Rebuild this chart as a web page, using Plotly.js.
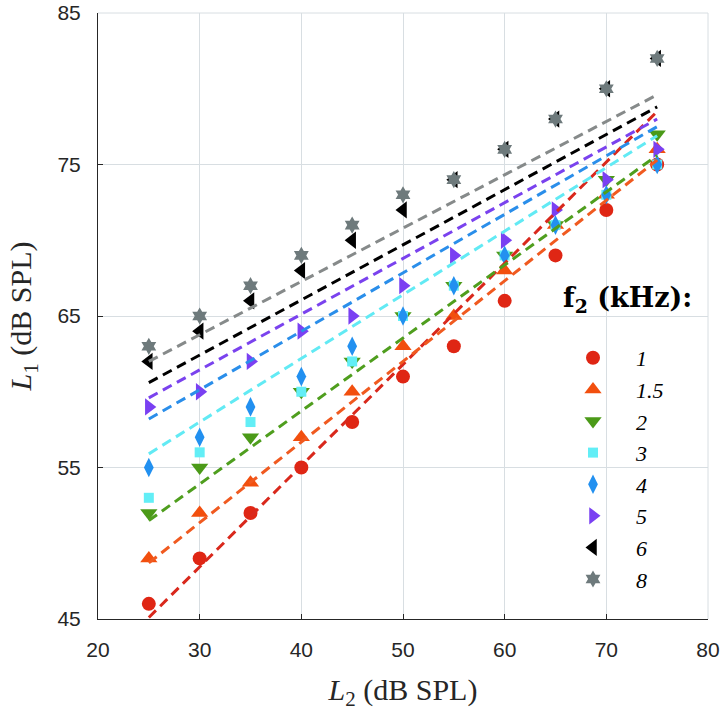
<!DOCTYPE html>
<html>
<head>
<meta charset="utf-8">
<script src="https://cdn.plot.ly/plotly-3.0.1.min.js"></script>
<style>html,body{margin:0;padding:0;background:#fff;}#chart{width:721px;height:718px;}</style>
</head>
<body>
<div id="chart"></div>
<script>
// L2 levels (dB SPL)
const L2 = [25, 30, 35, 40, 45, 50, 55, 60, 65, 70, 75];
// f2 (kHz) series names
const seriesNames = ["1", "1.5", "2", "3", "4", "5", "6", "8"];
// Measured L1 (dB SPL) for each f2
const L1_f1   = [46, 49, 52, 55, 58, 61, 63, 66, 69, 72, 75];
const L1_f1p5 = [49, 52, 54, 57, 60, 63, 65, 68, 71, 73, 76];
const L1_f2   = [52, 55, 57, 60, 62, 65, 67, 69, 71, 74, 77];
const L1_f3   = [53, 56, 58, 60, 62, 65, 67, 69, 71, 73, 75];
const L1_f4   = [55, 57, 59, 61, 63, 65, 67, 69, 71, 73, 75];
const L1_f5   = [59, 60, 62, 64, 65, 67, 69, 70, 72, 74, 76];
const L1_f6   = [62, 64, 66, 68, 70, 72, 74, 76, 78, 80, 82];
const L1_f8   = [63, 65, 67, 69, 71, 73, 74, 76, 78, 80, 82];
// Linear fit lines: L1 at L2 = 25 and L2 = 75
const fitL2 = [25, 75];
const fitStart = [45.1, 48.7, 51.5, 55.9, 58.2, 59.6, 60.6, 62.0];
const fitEnd   = [78.5, 75.3, 75.6, 76.9, 77.5, 78.0, 78.8, 79.6];
// Axis ticks
const xTicks = [20, 30, 40, 50, 60, 70, 80];
const yTicks = [45, 55, 65, 75, 85];

const allL1 = [L1_f1, L1_f1p5, L1_f2, L1_f3, L1_f4, L1_f5, L1_f6, L1_f8];
const markerColors = ["#df2614", "#f24f0e", "#4b9a18", "#62eef6", "#2290f0", "#7a40f2", "#000000", "#6e7a7c"];
const lineColors   = ["#d9281c", "#f05a20", "#4f9e1e", "#62eaf4", "#2a8eea", "#7a42ee", "#000000", "#868a8a"];
const symbols = ["circle", "triangle-up", "triangle-down", "square", "diamond-tall", "triangle-right", "triangle-left", "hexagram"];
const sizes = [14, 15, 15, 10, 14, 15, 15, 13];

const traces = [];
allL1.forEach((ys, i) => {
  traces.push({
    type: "scatter", mode: "markers", x: L2, y: ys,
    name: "<i>" + seriesNames[i] + "</i>",
    marker: {symbol: symbols[i], color: markerColors[i], size: sizes[i], line: {width: 0}},
    cliponaxis: false
  });
});
allL1.forEach((ys, i) => {
  traces.push({
    type: "scatter", mode: "lines", x: fitL2, y: [fitStart[i], fitEnd[i]],
    line: {color: lineColors[i], width: 3, dash: "10px,6px"},
    showlegend: false, hoverinfo: "skip"
  });
});

const gridColor = "#d8dee2";
const axisCommon = {
  showgrid: true, gridcolor: gridColor, gridwidth: 1,
  showline: true, linecolor: "#262626", linewidth: 1,
  ticks: "inside", ticklen: 5, tickcolor: "#262626",
  tickfont: {family: "Liberation Sans, Arial, sans-serif", size: 21, color: "#262626"},
  zeroline: false, mirror: false, ticklabeloverflow: "allow"
};

const pTop = 13, pBottom = 619, pLeft = 98, pRight = 708;
const layout = {
  width: 721, height: 718,
  margin: {l: pLeft, r: 721 - pRight, t: pTop, b: 718 - pBottom},
  paper_bgcolor: "#ffffff", plot_bgcolor: "#ffffff",
  showlegend: true,
  xaxis: Object.assign({}, axisCommon, {
    range: [20, 80], tickvals: xTicks, ticktext: xTicks.map(String),
    ticklabelstandoff: 12,
    title: {text: "<i>L</i><sub>2</sub> (dB SPL)", font: {family: "Liberation Serif, serif", size: 30, color: "#262626"}, standoff: 18}
  }),
  yaxis: Object.assign({}, axisCommon, {
    range: [45, 85], tickvals: yTicks, ticktext: yTicks.map(String),
    ticklabelstandoff: 12,
    title: {text: "<i>L</i><sub>1</sub> (dB SPL)", font: {family: "Liberation Serif, serif", size: 30, color: "#262626"}, standoff: 16}
  }),
  shapes: [
    {type: "line", xref: "paper", yref: "paper", x0: 0, x1: 1, y0: 1, y1: 1, line: {color: gridColor, width: 1}, layer: "below"},
    {type: "line", xref: "paper", yref: "paper", x0: 1, x1: 1, y0: 0, y1: 1, line: {color: gridColor, width: 1}, layer: "below"}
  ],
  annotations: [
    {text: "<b>f<sub>2</sub> (kHz):</b>", xref: "paper", yref: "paper",
     x: (627 - pLeft) / (pRight - pLeft), y: 1 - (299 - pTop) / (pBottom - pTop), xanchor: "center", yanchor: "middle",
     showarrow: false, font: {family: "DejaVu Serif, serif", size: 27, color: "#000000"}}
  ],
  legend: {
    bgcolor: "rgba(0,0,0,0)", borderwidth: 0,
    font: {family: "Liberation Serif, serif", size: 22, color: "#000000"},
    itemwidth: 76,
    x: (550 - pLeft) / (pRight - pLeft), y: 1 - (337 - pTop) / (pBottom - pTop),
    xanchor: "left", yanchor: "top"
  }
};

Plotly.newPlot("chart", traces, layout, {displayModeBar: false, staticPlot: true});
</script>
</body>
</html>
